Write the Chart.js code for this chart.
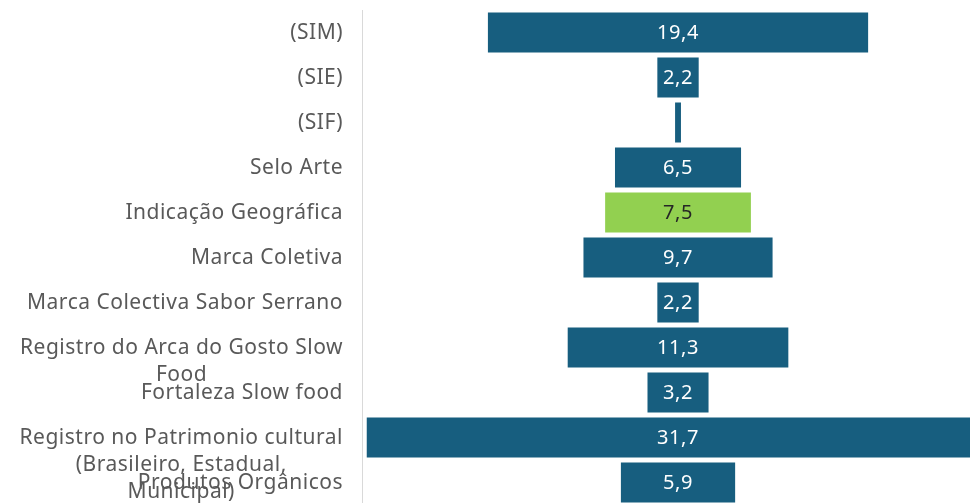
<!DOCTYPE html>
<html>
<head>
<meta charset="utf-8">
<script src="https://cdn.jsdelivr.net/npm/chart.js@4/dist/chart.umd.min.js"></script>
<style>
  html, body { margin: 0; padding: 0; background: #ffffff; overflow: hidden; }
  #wrap { width: 970px; height: 520px; }
</style>
</head>
<body>
<div id="wrap"><canvas id="chart"></canvas></div>
<script>
// categories, top to bottom (arrays = wrapped labels)
const categories = [
    '(SIM)',
    '(SIE)',
    '(SIF)',
    'Selo Arte',
    'Indicação Geográfica',
    'Marca Coletiva',
    'Marca Colectiva Sabor Serrano',
    ['Registro do Arca do Gosto Slow', 'Food'],
    'Fortaleza Slow food',
    ['Registro no Patrimonio cultural', '(Brasileiro, Estadual,', 'Municipal)'],
    'Produtos Orgânicos'
];

// percentages
const values = [19.4, 2.2, 0.4, 6.5, 7.5, 9.7, 2.2, 11.3, 3.2, 31.7, 5.9];

// which bar is highlighted
const highlighted = [false, false, false, false, true, false, false, false, false, false, false];

const BLUE = '#175e7f';
const GREEN = '#92d050';
const FONT = '"Noto Sans", sans-serif';

// centred (funnel) bars: each bar spans -v/2 .. v/2
const spans = values.map(v => [-v / 2, v / 2]);

// value labels inside the bars
const valueLabels = {
    id: 'valueLabels',
    afterDatasetsDraw(chart) {
        const ctx = chart.ctx;
        const meta = chart.getDatasetMeta(0);
        ctx.save();
        ctx.font = '20px ' + FONT;
        ctx.letterSpacing = '0.6px';
        ctx.textAlign = 'center';
        ctx.textBaseline = 'middle';
        meta.data.forEach((bar, i) => {
            const txt = values[i].toFixed(1).replace('.', ',');
            const w = Math.abs(bar.x - bar.base);
            if (w < ctx.measureText(txt).width + 4) return;
            ctx.fillStyle = highlighted[i] ? '#262626' : '#ffffff';
            ctx.fillText(txt, (bar.x + bar.base) / 2, bar.y + 1);
        });
        ctx.restore();
    }
};

// category labels: right aligned, wrapped lines centred under the first
const sideLabels = {
    id: 'sideLabels',
    afterDraw(chart) {
        const ctx = chart.ctx;
        const yScale = chart.scales.y;
        ctx.save();
        ctx.font = '21px ' + FONT;
        ctx.letterSpacing = '0.5px';
        ctx.fillStyle = '#595959';
        ctx.textBaseline = 'middle';
        ctx.textAlign = 'center';
        categories.forEach((lab, i) => {
            const lines = [].concat(lab);
            const y = yScale.getPixelForValue(i);
            const right = yScale.right - 19;
            const widest = Math.max(...lines.map(l => ctx.measureText(l).width));
            lines.forEach((l, j) => {
                ctx.fillText(l, right - widest / 2, y + 1 + j * 27);
            });
        });
        ctx.restore();
    }
};

new Chart(document.getElementById('chart'), {
    type: 'bar',
    data: {
        labels: categories,
        datasets: [{
            data: spans,
            backgroundColor: highlighted.map(h => h ? GREEN : BLUE),
            borderColor: 'rgba(255, 255, 255, 0.6)',
            borderWidth: 1,
            borderSkipped: false,
            barPercentage: 0.93,
            categoryPercentage: 1
        }]
    },
    options: {
        indexAxis: 'y',
        responsive: true,
        maintainAspectRatio: false,
        animation: false,
        layout: { padding: { top: 10, bottom: 15, left: 0, right: 0 } },
        plugins: {
            legend: { display: false },
            tooltip: { enabled: false }
        },
        scales: {
            x: {
                display: false,
                min: -16.04,
                max: 14.82
            },
            y: {
                grid: { display: false },
                border: { display: true, color: '#d9d9d9', width: 1 },
                ticks: { display: false },
                afterFit(scale) { scale.width = 362; }
            }
        }
    },
    plugins: [valueLabels, sideLabels]
});
</script>
</body>
</html>
